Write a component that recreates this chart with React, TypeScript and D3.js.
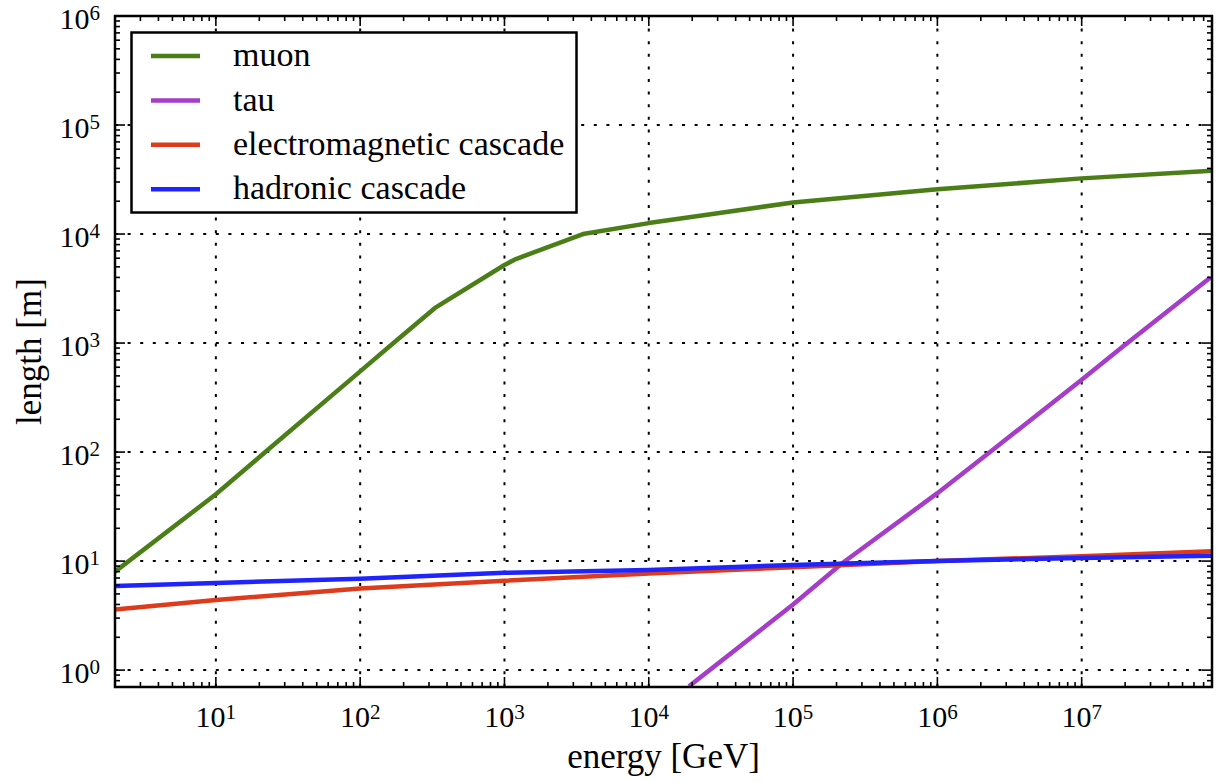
import * as React from "react"
import * as d3 from "d3"

// series (energy in GeV, length in m)
const muonEnergy = [2, 10, 22, 100, 175, 330, 1000, 1200, 3500, 1e4, 3e4, 1e5, 1e6, 1e7, 8e7]
const muonLength = [8, 41, 100, 550, 1035, 2100, 5200, 5900, 10000, 12600, 15500, 19500, 25700, 32400, 38000]

const tauEnergy = [1.9e4, 1e5, 2.2e5, 1e6, 2.4e6, 1e7, 1.95e7, 7.8e7]
const tauLength = [0.71, 4.0, 9.6, 42, 104, 460, 940, 4000]

const cascadeEnergy = [2, 10, 100, 1e3, 1e4, 1e5, 1e6, 1e7, 8e7]
const emLength = [3.6, 4.4, 5.6, 6.6, 7.7, 8.8, 10.0, 11.1, 12.3]
const hadLength = [5.9, 6.3, 6.9, 7.8, 8.3, 9.2, 10.0, 10.7, 11.2]

const xTickExps = [1, 2, 3, 4, 5, 6, 7]
const yTickExps = [0, 1, 2, 3, 4, 5, 6]

const seriesNames = ["muon", "tau", "electromagnetic cascade", "hadronic cascade"]
const seriesColors = ["#4b7e17", "#a53dc9", "#dd3b1c", "#1f24ff"]

const serif = { fontFamily: "'Liberation Serif', 'Times New Roman', Times, Tinos, 'DejaVu Serif', 'Noto Serif', serif" }

export default function App() {
    const [w, h] = [1225, 782]
    const m = { left: 115, right: 1212, top: 16, bottom: 687 }

    const x = d3.scaleLog().domain([2, 8e7]).range([m.left, m.right])
    const y = d3.scaleLog().domain([0.7, 1e6]).range([m.bottom, m.top])

    const series = [
        muonEnergy.map((e, i) => [e, muonLength[i]]),
        tauEnergy.map((e, i) => [e, tauLength[i]]),
        cascadeEnergy.map((e, i) => [e, emLength[i]]),
        cascadeEnergy.map((e, i) => [e, hadLength[i]]),
    ]

    const line = d3.line<number[]>().x(d => x(d[0])).y(d => y(d[1]))

    // minor ticks 2..9 per decade that fall inside the domain
    const minors = (scale: d3.ScaleLogarithmic<number, number>, lo: number, hi: number) => {
        const out: number[] = []
        const [a, b] = scale.domain()
        for (let p = lo; p <= hi; p++) {
            for (let k = 2; k <= 9; k++) {
                const v = k * Math.pow(10, p)
                if (v > a && v < b) out.push(v)
            }
        }
        return out
    }
    const xMinor = minors(x, 0, 7)
    const yMinor = minors(y, -1, 5)

    const majorLen = 10
    const minorLen = 5
    const grid = { stroke: "black", strokeWidth: 2, strokeDasharray: "3 9.6" }

    return (
        <svg width={w} height={h} style={{ position: "absolute", left: 0, top: 0, background: "white" }}>
            <defs>
                <clipPath id="plot-clip">
                    <rect x={m.left} y={m.top} width={m.right - m.left} height={m.bottom - m.top} />
                </clipPath>
            </defs>

            {/* grid */}
            {xTickExps.map(p => (
                <line key={"gx" + p} x1={x(10 ** p)} x2={x(10 ** p)} y1={m.top} y2={m.bottom} {...grid} />
            ))}
            {yTickExps.map(p => (
                <line key={"gy" + p} x1={m.left} x2={m.right} y1={y(10 ** p)} y2={y(10 ** p)} {...grid} />
            ))}

            {/* data */}
            <g clipPath="url(#plot-clip)">
                {series.map((s, i) => (
                    <path key={i} d={line(s) ?? ""} fill="none" stroke={seriesColors[i]} strokeWidth={4.5} strokeLinejoin="round" />
                ))}
            </g>

            {/* ticks, inward on all sides */}
            <g stroke="black" strokeWidth={1.6}>
                {xTickExps.map(p => (
                    <g key={"tx" + p}>
                        <line x1={x(10 ** p)} x2={x(10 ** p)} y1={m.bottom} y2={m.bottom - majorLen} />
                        <line x1={x(10 ** p)} x2={x(10 ** p)} y1={m.top} y2={m.top + majorLen} />
                    </g>
                ))}
                {xMinor.map((v, i) => (
                    <g key={"mx" + i}>
                        <line x1={x(v)} x2={x(v)} y1={m.bottom} y2={m.bottom - minorLen} />
                        <line x1={x(v)} x2={x(v)} y1={m.top} y2={m.top + minorLen} />
                    </g>
                ))}
                {yTickExps.map(p => (
                    <g key={"ty" + p}>
                        <line x1={m.left} x2={m.left + majorLen} y1={y(10 ** p)} y2={y(10 ** p)} />
                        <line x1={m.right} x2={m.right - majorLen} y1={y(10 ** p)} y2={y(10 ** p)} />
                    </g>
                ))}
                {yMinor.map((v, i) => (
                    <g key={"my" + i}>
                        <line x1={m.left} x2={m.left + minorLen} y1={y(v)} y2={y(v)} />
                        <line x1={m.right} x2={m.right - minorLen} y1={y(v)} y2={y(v)} />
                    </g>
                ))}
            </g>

            {/* frame */}
            <rect x={m.left} y={m.top} width={m.right - m.left} height={m.bottom - m.top} fill="none" stroke="black" strokeWidth={2.5} />

            {/* tick labels */}
            {xTickExps.map(p => (
                <text key={"lx" + p} x={x(10 ** p)} y={727} textAnchor="middle" fontSize={30} fill="black" style={serif}>
                    10<tspan fontSize={21} dy={-8}>{p}</tspan>
                </text>
            ))}
            {yTickExps.map(p => (
                <text key={"ly" + p} x={100} y={y(10 ** p) + 13} textAnchor="end" fontSize={30} fill="black" style={serif}>
                    10<tspan fontSize={21} dy={-9}>{p}</tspan>
                </text>
            ))}

            {/* axis labels */}
            <text x={(m.left + m.right) / 2} y={768} textAnchor="middle" fontSize={35} fill="black" style={serif}>energy [GeV]</text>
            <text transform={`translate(41,${(m.top + m.bottom) / 2}) rotate(-90)`} textAnchor="middle" fontSize={35} fill="black" style={serif}>length [m]</text>

            {/* legend */}
            <g>
                <rect x={131.5} y={32.5} width={445} height={180} fill="white" stroke="black" strokeWidth={2.5} />
                {seriesNames.map((name, i) => {
                    const ry = 56 + i * 44.4
                    return (
                        <g key={name}>
                            <line x1={151} x2={200} y1={ry} y2={ry} stroke={seriesColors[i]} strokeWidth={4.5} />
                            <text x={233} y={ry} dy="0.3em" fontSize={34} fill="black" style={serif}>{name}</text>
                        </g>
                    )
                })}
            </g>
        </svg>
    )
}
